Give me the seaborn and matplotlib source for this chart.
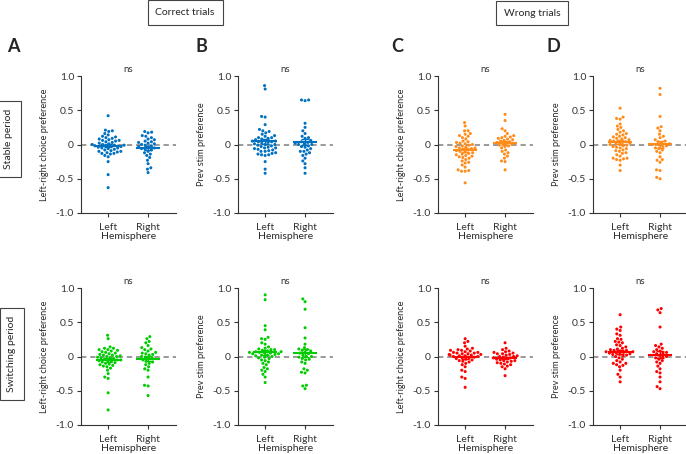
import matplotlib
matplotlib.use("Agg")
import matplotlib.pyplot as plt
import seaborn as sns
import pandas as pd
import numpy as np

# ---- values (per neuron preference) ----
hemis = ["Left", "Right"]

# stable period, correct trials
stab_cor_choice_L = [0.42, 0.21, 0.19, 0.2, 0.16, 0.14, 0.12, 0.1, 0.09, 0.08, 0.07, 0.06, 0.05, 0.04, 0.03,
                     0.02, 0.01, 0.0, 0.0, -0.01, -0.01, -0.02, -0.02, -0.03, -0.03, -0.04, -0.05, -0.06, -0.07,
                     -0.08, -0.09, -0.1, -0.1, -0.11, -0.12, -0.13, -0.13, -0.14, -0.16, -0.18, -0.25, -0.44,
                     -0.63, 0.11, 0.06, -0.05]
stab_cor_choice_R = [0.19, 0.18, 0.17, 0.13, 0.12, 0.1, 0.08, 0.07, 0.05, 0.04, 0.02, 0.01, 0.0, -0.01, -0.02,
                     -0.03, -0.04, -0.05, -0.06, -0.08, -0.1, -0.12, -0.14, -0.16, -0.19, -0.23, -0.28, -0.34,
                     -0.36, -0.41, 0.03, -0.07]
stab_cor_stim_L = [0.86, 0.81, 0.4, 0.41, 0.29, 0.22, 0.2, 0.19, 0.17, 0.13, 0.12, 0.1, 0.09, 0.08, 0.07, 0.06,
                   0.05, 0.05, 0.04, 0.03, 0.02, 0.01, 0.0, 0.0, -0.01, -0.02, -0.03, -0.04, -0.05, -0.06, -0.07,
                   -0.08, -0.09, -0.1, -0.12, -0.13, -0.14, -0.15, -0.15, -0.16, -0.25, -0.36, -0.42, 0.15, -0.1,
                   0.04, 0.1, -0.05]
stab_cor_stim_R = [0.65, 0.64, 0.65, 0.31, 0.25, 0.2, 0.16, 0.12, 0.09, 0.06, 0.04, 0.02, 0.01, 0.0, 0.0, -0.02,
                   -0.04, -0.06, -0.08, -0.1, -0.12, -0.14, -0.16, -0.2, -0.24, -0.28, -0.34, -0.42, 0.1, 0.03,
                   -0.03, -0.1]

# stable period, wrong trials
stab_wr_choice_L = [0.32, 0.27, 0.2, 0.2, 0.16, 0.13, 0.12, 0.08, 0.05, 0.04, 0.02, 0.01, 0.0, -0.01, -0.03,
                    -0.04, -0.05, -0.06, -0.07, -0.08, -0.09, -0.1, -0.12, -0.13, -0.15, -0.16, -0.17, -0.18,
                    -0.2, -0.22, -0.24, -0.26, -0.3, -0.33, -0.37, -0.38, -0.39, -0.39, -0.56, 0.1, -0.02, -0.11,
                    -0.14, 0.15, -0.19, -0.27, 0.03, -0.05]
stab_wr_choice_R = [0.44, 0.35, 0.23, 0.2, 0.16, 0.12, 0.11, 0.1, 0.08, 0.06, 0.05, 0.04, 0.03, 0.01, 0.0, -0.01,
                    -0.03, -0.05, -0.08, -0.1, -0.12, -0.14, -0.17, -0.2, -0.24, -0.25, -0.37, 0.07, 0.02, -0.02,
                    0.13, 0.09]
stab_wr_stim_L = [0.53, 0.4, 0.38, 0.37, 0.3, 0.27, 0.25, 0.2, 0.18, 0.16, 0.14, 0.12, 0.1, 0.09, 0.08, 0.07,
                  0.06, 0.05, 0.04, 0.03, 0.02, 0.01, 0.0, -0.01, -0.02, -0.03, -0.05, -0.06, -0.08, -0.1, -0.12,
                  -0.13, -0.15, -0.17, -0.2, -0.2, -0.21, -0.22, -0.23, -0.3, -0.38, 0.22, 0.11, 0.05, -0.04,
                  -0.09, 0.15, 0.0]
stab_wr_stim_R = [0.82, 0.73, 0.41, 0.26, 0.24, 0.2, 0.15, 0.1, 0.07, 0.05, 0.03, 0.01, 0.0, -0.01, -0.03, -0.05,
                  -0.06, -0.08, -0.1, -0.12, -0.18, -0.22, -0.23, -0.26, -0.37, -0.38, -0.48, -0.5, 0.12, -0.02,
                  0.0, 0.04]

# switching period, correct trials
sw_cor_choice_L = [0.31, 0.26, 0.14, 0.12, 0.1, 0.1, 0.09, 0.08, 0.06, 0.05, 0.04, 0.03, 0.02, 0.01, 0.0, -0.01,
                   -0.02, -0.03, -0.04, -0.05, -0.06, -0.07, -0.08, -0.1, -0.12, -0.13, -0.15, -0.17, -0.2,
                   -0.25, -0.3, -0.32, -0.53, -0.78, 0.07, -0.05, -0.09, 0.02, -0.14, 0.12, -0.02, -0.06, 0.0,
                   -0.11]
sw_cor_choice_R = [0.29, 0.26, 0.22, 0.2, 0.16, 0.13, 0.1, 0.08, 0.06, 0.05, 0.03, 0.02, 0.0, -0.01, -0.03,
                   -0.05, -0.08, -0.1, -0.12, -0.15, -0.18, -0.2, -0.3, -0.42, -0.43, -0.57, 0.11, 0.04, -0.02,
                   -0.07]
sw_cor_stim_L = [0.9, 0.83, 0.45, 0.39, 0.28, 0.26, 0.25, 0.2, 0.18, 0.14, 0.12, 0.1, 0.09, 0.08, 0.07, 0.06,
                 0.05, 0.05, 0.04, 0.03, 0.02, 0.01, 0.0, -0.02, -0.03, -0.05, -0.08, -0.1, -0.12, -0.16, -0.18,
                 -0.2, -0.22, -0.26, -0.3, -0.38, 0.1, 0.07, 0.04, -0.01, 0.11, 0.06, 0.02, -0.06]
sw_cor_stim_R = [0.84, 0.8, 0.69, 0.42, 0.27, 0.18, 0.13, 0.11, 0.09, 0.06, 0.04, 0.02, 0.0, -0.01, -0.03,
                 -0.05, -0.08, -0.1, -0.18, -0.2, -0.23, -0.24, -0.42, -0.43, -0.47, 0.05, 0.0, -0.04, 0.1, 0.08]

# switching period, wrong trials
sw_wr_choice_L = [0.26, 0.22, 0.2, 0.15, 0.12, 0.1, 0.09, 0.08, 0.07, 0.06, 0.05, 0.04, 0.03, 0.02, 0.01, 0.0,
                  -0.01, -0.02, -0.03, -0.04, -0.05, -0.06, -0.08, -0.1, -0.12, -0.15, -0.2, -0.22, -0.3, -0.32,
                  -0.45, 0.11, 0.06, 0.03, 0.0, -0.02, 0.09, 0.04, 0.01, -0.07, 0.02, 0.05]
sw_wr_choice_R = [0.2, 0.12, 0.1, 0.08, 0.07, 0.06, 0.05, 0.04, 0.03, 0.02, 0.01, 0.0, -0.01, -0.02, -0.03,
                  -0.04, -0.05, -0.06, -0.07, -0.08, -0.1, -0.11, -0.12, -0.14, -0.15, -0.18, -0.28, 0.04, -0.02,
                  -0.06, 0.0, -0.09]
sw_wr_stim_L = [0.61, 0.43, 0.4, 0.38, 0.33, 0.31, 0.26, 0.25, 0.22, 0.21, 0.2, 0.16, 0.14, 0.12, 0.1, 0.09,
                0.08, 0.07, 0.06, 0.05, 0.04, 0.03, 0.02, 0.01, 0.0, -0.02, -0.04, -0.06, -0.08, -0.1, -0.12,
                -0.13, -0.15, -0.2, -0.26, -0.3, -0.37, 0.11, 0.07, 0.05, 0.09, 0.03, -0.1, 0.17]
sw_wr_stim_R = [0.7, 0.68, 0.64, 0.43, 0.18, 0.16, 0.14, 0.12, 0.1, 0.08, 0.06, 0.04, 0.02, 0.0, -0.02, -0.04,
                -0.06, -0.08, -0.1, -0.14, -0.18, -0.22, -0.24, -0.3, -0.37, -0.44, -0.47, 0.05, -0.01, 0.07]

blue = "#0070C0"
orange = "#FF8C1A"
green = "#00CC00"
red = "#FF0000"

choice_lab = "Left-right choice preference"
stim_lab = "Prev stim preference"

# (row, col, left, right, ylabel, colour)
panels = [
    (0, 0, stab_cor_choice_L, stab_cor_choice_R, choice_lab, blue),
    (0, 1, stab_cor_stim_L, stab_cor_stim_R, stim_lab, blue),
    (0, 2, stab_wr_choice_L, stab_wr_choice_R, choice_lab, orange),
    (0, 3, stab_wr_stim_L, stab_wr_stim_R, stim_lab, orange),
    (1, 0, sw_cor_choice_L, sw_cor_choice_R, choice_lab, green),
    (1, 1, sw_cor_stim_L, sw_cor_stim_R, stim_lab, green),
    (1, 2, sw_wr_choice_L, sw_wr_choice_R, choice_lab, red),
    (1, 3, sw_wr_stim_L, sw_wr_stim_R, stim_lab, red),
]

sns.set_style("ticks")
plt.rcParams["font.family"] = ["Lato", "DejaVu Sans"]

W, H = 686, 454
fig = plt.figure(figsize=(W / 100, H / 100), dpi=100)

col_x = [81, 238, 438, 593]      # pixel position of the y axis
row_top = [76, 288]
ax_w, ax_h = 95, 137

for row, col, left, right, ylab, colour in panels:
    ax = fig.add_axes([col_x[col] / W, 1 - (row_top[row] + ax_h) / H, ax_w / W, ax_h / H])
    df = pd.DataFrame({"hemi": ["Left"] * len(left) + ["Right"] * len(right),
                       "pref": left + right})
    ax.axhline(0, color="#808080", lw=1.1, ls=(0, (3.5, 2.5)), zorder=0)
    # invisible edge keeps a small gap between neighbouring dots
    sns.swarmplot(data=df, x="hemi", y="pref", order=hemis, color=colour, size=2.2,
                  linewidth=0.3, edgecolor="none", ax=ax, zorder=2)
    # mean +/- SEM
    for i, vals in enumerate([left, right]):
        v = np.array(vals)
        m = v.mean()
        se = v.std(ddof=1) / np.sqrt(len(v))
        ax.hlines(m, i - 0.3, i + 0.3, color=colour, lw=1.5, zorder=4)
        ax.errorbar(i, m, yerr=se, color=colour, capsize=2.6, lw=1.0, capthick=1.0, zorder=4)
    ax.set_xlim(-0.68, 1.7)
    ax.set_ylim(-1.0, 1.0)
    ax.set_yticks([-1.0, -0.5, 0, 0.5, 1.0])
    ax.set_yticklabels(["-1.0", "-0.5", "0", "0.5", "1.0"])
    ax.tick_params(labelsize=7.5, length=3, width=0.8, pad=2, colors="#333333")
    ax.tick_params(axis="x", pad=4)
    ax.set_ylabel(ylab, fontsize=6.6, labelpad=5)
    ax.set_xlabel("Hemisphere", fontsize=7.5, labelpad=0)
    ax.text(0.5, 1.03, "ns", ha="center", va="bottom", fontsize=7, color="#333333")
    sns.despine(ax=ax)
    for s in ["left", "bottom"]:
        ax.spines[s].set_color("#333333")
        ax.spines[s].set_linewidth(0.8)

# panel letters
for lx, letter in zip([13, 201, 397, 553], "ABCD"):
    fig.text(lx / W, 1 - 47 / H, letter, fontsize=13, fontweight="bold", ha="center", va="center")

box = dict(boxstyle="square,pad=0.75", fc="white", ec="#444444", lw=0.8)
fig.text(185 / W, 1 - 12.5 / H, "Correct trials", fontsize=7.5, ha="center", va="center", bbox=box)
fig.text(532 / W, 1 - 13 / H, "Wrong trials", fontsize=7.5, ha="center", va="center", bbox=box)
fig.text(9 / W, 1 - 139 / H, "Stable period", fontsize=7.5, ha="center", va="center", rotation=90, bbox=box)
fig.text(12 / W, 1 - 354 / H, "Switching period", fontsize=7.5, ha="center", va="center", rotation=90, bbox=box)

fig.savefig("out.png", dpi=100)
